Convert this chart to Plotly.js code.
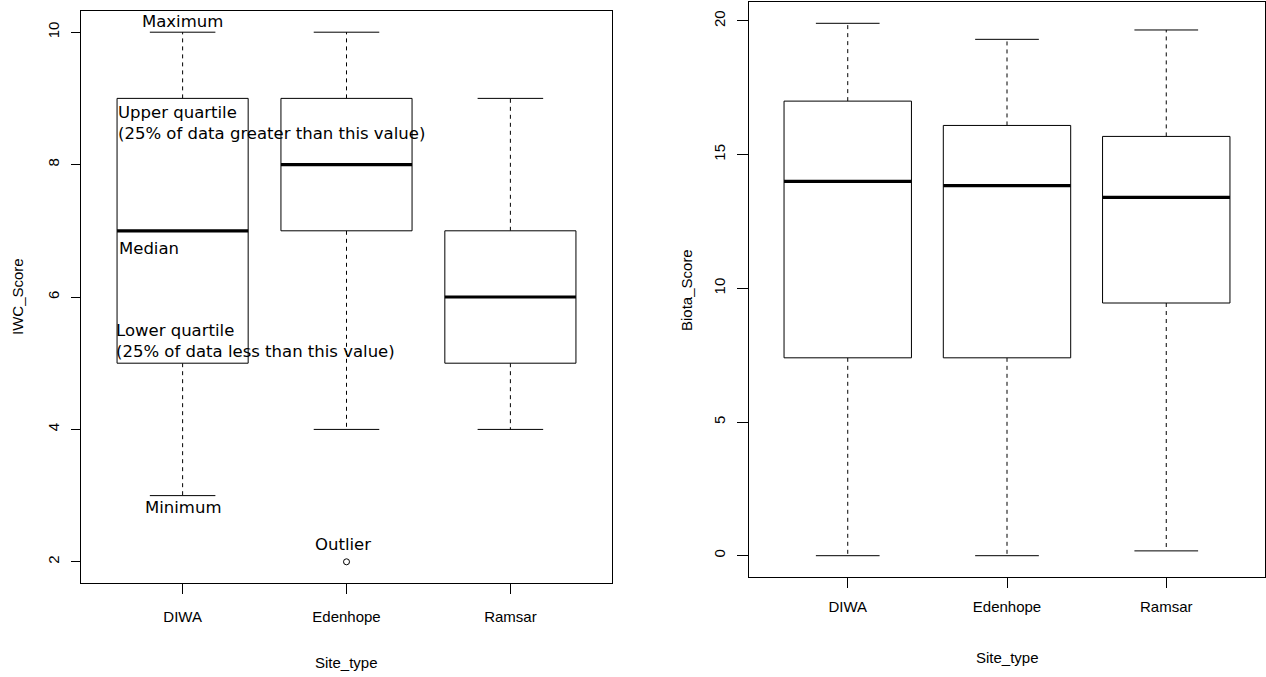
<!DOCTYPE html>
<html>
<head>
<meta charset="utf-8">
<script src="https://cdn.plot.ly/plotly-3.0.1.min.js"></script>
<style>
  html, body { margin: 0; padding: 0; background: #ffffff; }
  #chart { width: 1266px; height: 677px; }
</style>
</head>
<body>
<div id="chart"></div>
<script>
// ---- Data ----
const categories = ['DIWA', 'Edenhope', 'Ramsar'];

// IWC_Score by Site_type
const iwcMin    = [3, 4, 4];
const iwcQ1     = [5, 7, 5];
const iwcMedian = [7, 8, 6];
const iwcQ3     = [9, 9, 7];
const iwcMax    = [10, 10, 9];
const iwcOutlierSite  = ['Edenhope'];
const iwcOutlierValue = [2];

// Biota_Score by Site_type
const biotaMin    = [0, 0, 0.18];
const biotaQ1     = [7.4, 7.4, 9.45];
const biotaMedian = [14.0, 13.84, 13.4];
const biotaQ3     = [17.0, 16.09, 15.68];
const biotaMax    = [19.91, 19.31, 19.66];

const iwcTicks   = [2, 4, 6, 8, 10];
const biotaTicks = [0, 5, 10, 15, 20];

// ---- Helpers ----
const HALF = 0.4;    // half box width (R boxwex 0.8)
const STAPLE = 0.2;  // half staple width
const pos = c => categories.indexOf(c) + 1;

function boxTraces(xa, ya, mins, q1, med, q3, maxs) {
  const wx = [], wy = [], bx = [], by = [], cx = [], cy = [], mx = [], my = [];
  categories.forEach((c, i) => {
    const p = pos(c);
    wx.push(p, p, null, p, p, null);
    wy.push(q3[i], maxs[i], null, q1[i], mins[i], null);
    bx.push(p - HALF, p + HALF, p + HALF, p - HALF, p - HALF, null);
    by.push(q1[i], q1[i], q3[i], q3[i], q1[i], null);
    cx.push(p - STAPLE, p + STAPLE, null, p - STAPLE, p + STAPLE, null);
    cy.push(maxs[i], maxs[i], null, mins[i], mins[i], null);
    mx.push(p - HALF, p + HALF, null);
    my.push(med[i], med[i], null);
  });
  const common = { xaxis: xa, yaxis: ya, mode: 'lines', hoverinfo: 'skip', showlegend: false };
  return [
    Object.assign({}, common, { x: wx, y: wy, line: { color: '#000', width: 1, dash: '4px,4px' } }),
    Object.assign({}, common, { x: bx, y: by, fill: 'toself', fillcolor: '#ffffff', line: { color: '#000', width: 1 } }),
    Object.assign({}, common, { x: cx, y: cy, line: { color: '#000', width: 1 } }),
    Object.assign({}, common, { x: mx, y: my, line: { color: '#000', width: 3.2 } })
  ];
}

const traces = []
  .concat(boxTraces('x', 'y', iwcMin, iwcQ1, iwcMedian, iwcQ3, iwcMax))
  .concat(boxTraces('x2', 'y2', biotaMin, biotaQ1, biotaMedian, biotaQ3, biotaMax));

traces.push({
  x: iwcOutlierSite.map(pos), y: iwcOutlierValue, xaxis: 'x', yaxis: 'y',
  mode: 'markers', hoverinfo: 'skip', showlegend: false,
  marker: { symbol: 'circle-open', size: 6, color: '#000', line: { width: 1, color: '#000' } }
});

// ---- Layout ----
const W = 1266, H = 677;
const tickFont = { family: 'Liberation Sans, Arial, sans-serif', size: 15, color: '#000' };
const noteFont = { family: 'DejaVu Sans, sans-serif', size: 16.5, color: '#000' };

function rRange(lo, hi) { const d = (hi - lo) * 0.04; return [lo - d, hi + d]; }
const iwcLo = Math.min(...iwcMin, ...iwcOutlierValue), iwcHi = Math.max(...iwcMax);
const biLo = Math.min(...biotaMin), biHi = Math.max(...biotaMax);

const baseX = {
  range: rRange(0.5, categories.length + 0.5),
  tickmode: 'array', tickvals: categories.map(pos), ticktext: categories,
  ticks: 'outside', tickcolor: '#000', tickwidth: 1,
  showline: true, linecolor: '#000', linewidth: 1, mirror: true,
  showgrid: false, zeroline: false, tickfont: tickFont, fixedrange: true
};
const baseY = {
  tickmode: 'array', ticks: 'outside', tickcolor: '#000', tickwidth: 1,
  tickangle: -90,
  showline: true, linecolor: '#000', linewidth: 1, mirror: true,
  showgrid: false, zeroline: false, tickfont: tickFont, fixedrange: true
};

const layout = {
  width: W, height: H,
  margin: { l: 0, r: 0, t: 0, b: 0 },
  paper_bgcolor: '#ffffff', plot_bgcolor: '#ffffff',
  showlegend: false,
  xaxis: Object.assign({}, baseX, { domain: [81 / W, 612 / W], anchor: 'y', ticklen: 10, ticklabelstandoff: 10 }),
  yaxis: Object.assign({}, baseY, { domain: [1 - 583 / H, 1 - 11 / H], anchor: 'x',
    range: rRange(iwcLo, iwcHi), tickvals: iwcTicks, ticklen: 9, ticklabelstandoff: 6 }),
  xaxis2: Object.assign({}, baseX, { domain: [749 / W, 1265 / W], anchor: 'y2', ticklen: 10, ticklabelstandoff: 6 }),
  yaxis2: Object.assign({}, baseY, { domain: [1 - 577 / H, 1 - 2 / H], anchor: 'x2',
    range: rRange(biLo, biHi), tickvals: biotaTicks, ticklen: 11, ticklabelstandoff: 6 }),
  annotations: [
    // axis titles
    { text: 'IWC_Score', xref: 'paper', yref: 'paper', x: 17 / W, y: 1 - 297 / H, textangle: -90,
      showarrow: false, font: tickFont, xanchor: 'center', yanchor: 'middle' },
    { text: 'Site_type', xref: 'paper', yref: 'paper', x: 346.5 / W, y: 1 - 662 / H,
      showarrow: false, font: tickFont, xanchor: 'center', yanchor: 'middle' },
    { text: 'Biota_Score', xref: 'paper', yref: 'paper', x: 686 / W, y: 1 - 290 / H, textangle: -90,
      showarrow: false, font: tickFont, xanchor: 'center', yanchor: 'middle' },
    { text: 'Site_type', xref: 'paper', yref: 'paper', x: 1007 / W, y: 1 - 657 / H,
      showarrow: false, font: tickFont, xanchor: 'center', yanchor: 'middle' },
    // explanatory labels on IWC plot
    { text: 'Maximum', xref: 'x', yref: 'y', x: pos('DIWA'), y: iwcMax[0], xanchor: 'center', yanchor: 'bottom',
      showarrow: false, font: noteFont, yshift: -1 },
    { text: 'Upper quartile<br>(25% of data greater than this value)', xref: 'x', yref: 'y',
      x: pos('DIWA') - HALF, y: iwcQ3[0], xanchor: 'left', yanchor: 'top', align: 'left',
      showarrow: false, font: noteFont, yshift: -3, xshift: -1 },
    { text: 'Median', xref: 'x', yref: 'y', x: pos('DIWA') - HALF, y: iwcMedian[0], xanchor: 'left', yanchor: 'top',
      showarrow: false, font: noteFont, yshift: -6 },
    { text: 'Lower quartile<br>(25% of data less than this value)', xref: 'x', yref: 'y',
      x: pos('DIWA') - HALF, y: iwcQ1[0], xanchor: 'left', yanchor: 'bottom', align: 'left',
      showarrow: false, font: noteFont, xshift: -3 },
    { text: 'Minimum', xref: 'x', yref: 'y', x: pos('DIWA'), y: iwcMin[0], xanchor: 'center', yanchor: 'top',
      showarrow: false, font: noteFont },
    { text: 'Outlier', xref: 'x', yref: 'y', x: pos(iwcOutlierSite[0]), y: iwcOutlierValue[0], xanchor: 'center', yanchor: 'bottom',
      showarrow: false, font: noteFont, yshift: 6, xshift: -4 }
  ]
};

Plotly.newPlot('chart', traces, layout, { staticPlot: true, displayModeBar: false });
</script>
</body>
</html>
